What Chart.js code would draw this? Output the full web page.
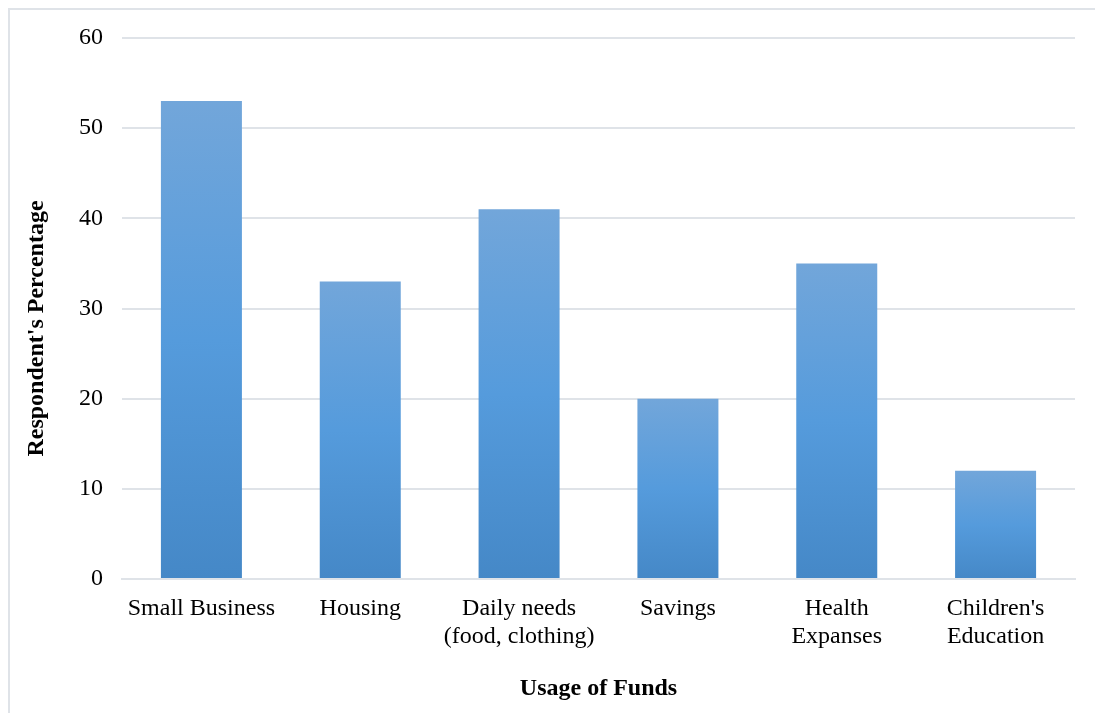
<!DOCTYPE html>
<html>
<head>
<meta charset="utf-8">
<script src="https://cdn.jsdelivr.net/npm/chart.js@4/dist/chart.umd.min.js"></script>
<style>
  body { margin: 0; background: #fff; }
  #wrap { position: relative; width: 1095px; height: 713px; }
  #frame { position: absolute; left: 8px; top: 8px; width: 1100px; height: 720px; border: 2px solid #dfe3e8; box-sizing: border-box; }
  canvas { position: absolute; left: 0; top: 0; }
</style>
</head>
<body>
<div id="wrap">
  <div id="frame"></div>
  <canvas id="myChart" width="1095" height="713"></canvas>
</div>
<script>
var categories = [
  "Small Business",
  "Housing",
  ["Daily needs", "(food, clothing)"],
  "Savings",
  ["Health", "Expanses"],
  ["Children's", "Education"]
];
var percentages = [53, 33, 41, 20, 35, 12];
var yTicks = [0, 10, 20, 30, 40, 50, 60];

var serif = "'Liberation Serif', 'Times New Roman', serif";

// each bar gets its own top-to-bottom shading, from its value down to zero
function barFill(context) {
  var chart = context.chart;
  var y = chart.scales && chart.scales.y;
  if (!y || !chart.chartArea || context.raw === undefined) return "#559bdb";
  var top = y.getPixelForValue(context.raw);
  var base = y.getPixelForValue(0);
  if (!isFinite(top) || !isFinite(base) || top === base) return "#559bdb";
  var g = chart.ctx.createLinearGradient(0, top, 0, base);
  g.addColorStop(0, "#72a6da");
  g.addColorStop(0.5, "#559bdc");
  g.addColorStop(1, "#4588c7");
  return g;
}

// y axis title sits a little below the plot centre
var yTitle = {
  id: "yTitle",
  afterDraw: function (chart) {
    var ctx = chart.ctx;
    var area = chart.chartArea;
    ctx.save();
    ctx.translate(37, (area.top + area.bottom) / 2 + 20);
    ctx.rotate(-Math.PI / 2);
    ctx.font = "bold 24px " + serif;
    ctx.fillStyle = "#000";
    ctx.textAlign = "center";
    ctx.textBaseline = "middle";
    ctx.fillText("Respondent's Percentage", 0, 0);
    ctx.restore();
  }
};

var ctx = document.getElementById("myChart").getContext("2d");
var mixedChart = new Chart(ctx, {
  type: "bar",
  data: {
    labels: categories,
    datasets: [
      {
        label: "Respondent's Percentage",
        data: percentages,
        backgroundColor: barFill,
        borderWidth: 0,
        categoryPercentage: 1,
        barPercentage: 0.51
      }
    ]
  },
  options: {
    responsive: false,
    animation: false,
    layout: { padding: { left: 0, right: 20, top: 38, bottom: 10 } },
    plugins: {
      legend: { display: false },
      tooltip: { enabled: false }
    },
    scales: {
      x: {
        grid: { display: false, drawTicks: false },
        border: { color: "#dfe3e8", width: 2 },
        ticks: {
          color: "#000",
          font: { family: serif, size: 24, lineHeight: 1.17 },
          padding: 16,
          maxRotation: 0,
          autoSkip: false
        },
        title: {
          display: true,
          text: "Usage of Funds",
          color: "#000",
          font: { family: serif, size: 24, weight: "bold" },
          padding: { top: 0, bottom: 0 }
        },
        afterFit: function (scale) { scale.height = 124; }
      },
      y: {
        min: 0,
        max: 60,
        afterBuildTicks: function (scale) {
          scale.ticks = yTicks.map(function (v) { return { value: v }; });
        },
        grid: { color: "#dfe3e8", lineWidth: 2, drawTicks: false },
        border: { display: false },
        ticks: {
          color: "#000",
          font: { family: serif, size: 24 },
          padding: 19
        },
        afterFit: function (scale) { scale.width = 122; }
      }
    }
  },
  plugins: [yTitle]
});
</script>
</body>
</html>
